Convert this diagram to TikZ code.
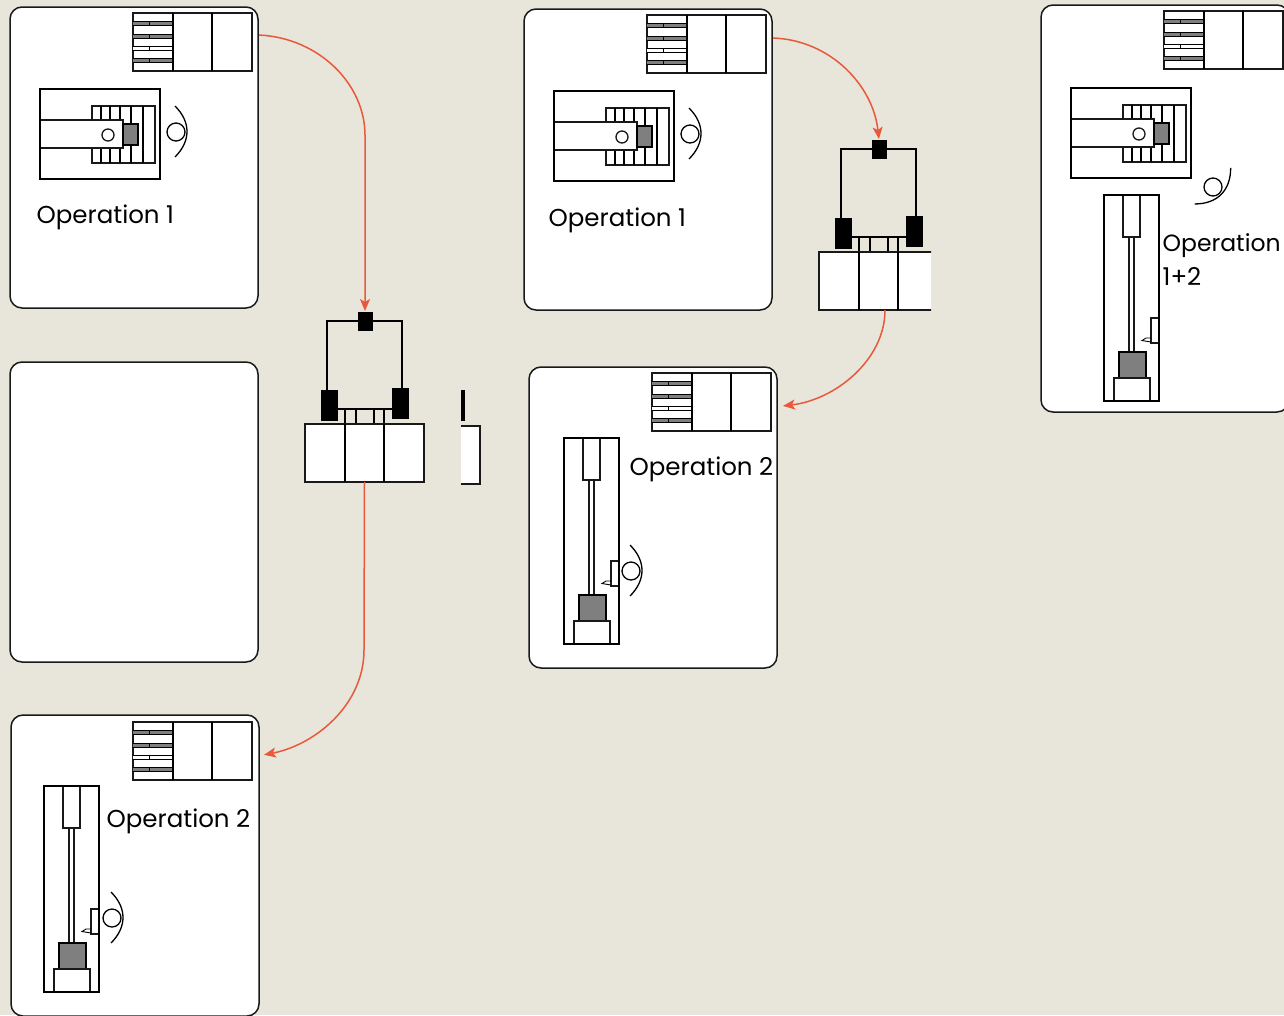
\documentclass[tikz,border=0pt]{standalone}
\usepackage{fontspec}
\setmainfont{Poppins}
\usetikzlibrary{arrows.meta}
\definecolor{paper}{HTML}{E8E5DA}
\definecolor{flowred}{HTML}{E8593C}
\definecolor{blockgray}{HTML}{7F7F7F}
\begin{document}
\begin{tikzpicture}[x=1pt,y=-1pt,>={Stealth[length=12pt,width=10pt,inset=3pt]},line width=1.3pt,line join=miter]
	\tikzset{card/.style={draw=black!90,fill=white,rounded corners=12pt,line width=1.5pt,inner sep=0pt,outer sep=0pt}}
	\tikzset{part/.style={draw=black!90,fill=white}}
	\tikzset{flow/.style={->,draw=flowred,line width=1.5pt,shorten >=1pt}}
	\tikzset{label/.style={anchor=base west,inner sep=0pt,font=\fontsize{24.5pt}{30pt}\selectfont}}
	\tikzset{blk/.style={fill=black,draw=black,line width=.5pt,inner sep=0pt,outer sep=0pt}}
	\tikzset{valve/.pic={
		\draw[part] (0,0) rectangle (119,58);
		\foreach \y/\c in {10/blockgray,23/blockgray,35/white,47/blockgray} {
			\fill[\c] (0,\y-2) rectangle (40,\y+2);
			\draw[line width=1pt] (0,\y-2) -- (40,\y-2) (0,\y+2) -- (40,\y+2);
			\fill[black] (15.5,\y-2) rectangle (17,\y+2);
		}
		\draw (40,0) -- (40,58) (79,0) -- (79,58);
	}}
	\tikzset{topview/.pic={
		\draw[part] (0,0) rectangle (120,90);
		\draw[part] (52,17) rectangle (115,74);
		\foreach \x in {61,70,80,91,103} \draw (\x,17) -- (\x,74);
		\draw[part] (0,31) -- (83,31) -- (83,59) -- (0,59);
		\draw[fill=blockgray] (83,35) rectangle (98,56);
		\draw[part] (68,46) circle (6pt);
		\draw (0,0) rectangle (120,90);
	}}
	\tikzset{sideview/.pic={
		\draw[part] (0,0) rectangle (55,206);
		\draw[part] (19,0) rectangle (36,42);
		\draw[part] (25,42) rectangle (30,157);
		\draw[fill=blockgray] (15,157) rectangle (42,183);
		\draw[part] (10,183) rectangle (46,206);
		\draw[part] (55,123) -- (47,123) -- (47,148) -- (55,148);
		\draw[line width=.9pt] (47,143) -- (42,143) -- (38,145.5) -- (47,147);
		\draw (0,0) rectangle (55,206);
	}}
	\tikzset{roller/.pic={
		\draw (0,0) circle (9pt);
		\draw (-1,-26) .. controls (15,-10) and (15,9) .. (-1,25);
	}}
	\tikzset{clamp/.pic={
		\draw (22,-33) -- (22,-103) -- (97,-103) -- (97,-36);
		\draw (32,-15) -- (87,-15) (40,-15) -- (40,0) (51,-15) -- (51,0) (69,-15) -- (69,0) (79,-15) -- (79,0);
		\node[blk,minimum width=16pt,minimum height=30pt] (-left) at (24,-19) {};
		\node[blk,minimum width=16pt,minimum height=30pt] (-right) at (95,-21) {};
		\node[blk,minimum width=14pt,minimum height=18pt] (-top) at (60,-103) {};
		\node[part,minimum width=119pt,minimum height=58pt,inner sep=0pt,outer sep=0pt] (-body) at (59.5,29) {};
		\draw (40,0) -- (40,58) (79,0) -- (79,58);
	}}

	\useasboundingbox (0,0) rectangle (1284,1015);
	\fill[paper] (0,0) rectangle (1284,1015);

	% left column
	\node[card,minimum width=248pt,minimum height=301pt] (cardA) at (134,157.5) {};
	\node[card,minimum width=248pt,minimum height=300pt] (cardB) at (134,512) {};
	\node[card,minimum width=248pt,minimum height=301pt] (cardC) at (135,865.5) {};
	\pic at (133,13) {valve};
	\pic at (40,89) {topview};
	\pic at (176,132) {roller};
	\node[label] (textA) at (36,223) {Operation 1};
	\pic at (133,722) {valve};
	\pic at (44,786) {sideview};
	\pic at (112,918) {roller};
	\node[label] (textC) at (106,827) {Operation 2};
	\pic (clampA) at (305,424) {clamp};
	\begin{scope}
		\clip (461,380) rectangle (490,490);
		\pic (clampB) at (361,426) {clamp};
	\end{scope}

	% middle column
	\node[card,minimum width=248pt,minimum height=301pt] (cardD) at (648,159.5) {};
	\node[card,minimum width=248pt,minimum height=301pt] (cardE) at (653,517.5) {};
	\pic at (647,15) {valve};
	\pic at (554,91) {topview};
	\pic at (690,134) {roller};
	\node[label] (textD) at (548,226) {Operation 1};
	\pic at (652,373) {valve};
	\pic at (564,438) {sideview};
	\pic at (631,571) {roller};
	\node[label] (textE) at (629,475) {Operation 2};
	\begin{scope}
		\clip (800,130) rectangle (931,320);
		\pic (clampD) at (819,252) {clamp};
	\end{scope}

	% right card
	\node[card,minimum width=248pt,minimum height=407pt] (cardF) at (1165,208.5) {};
	\pic at (1164,11) {valve};
	\pic at (1071,88) {topview};
	\pic at (1104,195) {sideview};
	\pic[rotate=-45] at (1213,187) {roller};
	\node[label,font=\fontsize{23.5pt}{30pt}\selectfont] (textF) at (1162,251) {Operation};
	\node[label] (textG) at (1162,285) {1+2};

	\coordinate (outA) at (259,35);
	\coordinate (outC) at (263,755);
	\coordinate (outD) at (773,38);
	\coordinate (outE) at (782,406);
	\draw[flow] (outA) .. controls (320,38) and (365,85) .. (365,135) -- (clampA-top.north);
	\draw[flow] (clampA-body.south) -- (364,650) .. controls (364,705) and (315,745) .. (outC);
	\draw[flow] (outD) .. controls (830,40) and (873,85) .. (clampD-top.north);
	\draw[flow] (885,310) .. controls (885,360) and (835,400) .. (outE);
\end{tikzpicture}
\end{document}
